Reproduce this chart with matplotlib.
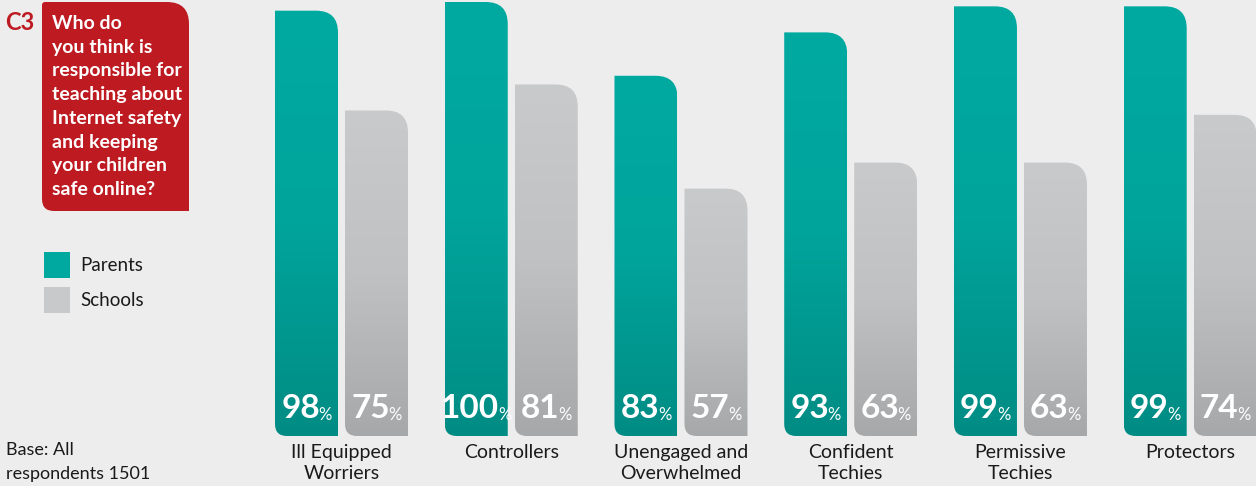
import numpy as np
import matplotlib
matplotlib.use("Agg")
import matplotlib.pyplot as plt
from matplotlib.path import Path
from matplotlib.patches import PathPatch, Rectangle
from matplotlib.colors import LinearSegmentedColormap
from matplotlib import transforms

# data
categories = ["Ill Equipped\nWorriers", "Controllers", "Unengaged and\nOverwhelmed",
              "Confident\nTechies", "Permissive\nTechies", "Protectors"]
parents = [98, 100, 83, 93, 99, 99]
schools = [75, 81, 57, 63, 63, 74]
series_names = ["Parents", "Schools"]
question = "Who do\nyou think is\nresponsible for\nteaching about\nInternet safety\nand keeping\nyour children\nsafe online?"

BG = "#ecedec"
RED = "#be1a21"
teal_cmap = LinearSegmentedColormap.from_list("teal", ["#008c84", "#00a49b", "#00aaa1"])
gray_cmap = LinearSegmentedColormap.from_list("gray", ["#a7a8aa", "#c0c1c3", "#c9cacc"])

W, H = 1256, 486
fig = plt.figure(figsize=(W / 100, H / 100), dpi=100)
fig.patch.set_facecolor(BG)

FONT = ["Lato", "DejaVu Sans"]

# bar axes: bottom of bars at y=436px, 100% reaches y=2px
spacing = 169.74
c0 = 341.5
left_px, right_px = 260, 1256
ax = fig.add_axes([left_px / W, 50 / H, (right_px - left_px) / W, 434 / H])
ax.set_xlim((left_px - c0) / spacing, (right_px - c0) / spacing)
ax.set_ylim(0, 100)
ax.axis("off")

bw = 63 / spacing
off = 35 / spacing

p0 = ax.transData.transform((0, 0))
p1 = ax.transData.transform((1, 1))
pxx, pxy = p1[0] - p0[0], p1[1] - p0[1]


def rounded_bar(x0, x1, top, rt=22, rb=12):
    tx, ty = rt / pxx, rt / pxy
    bx, by = rb / pxx, rb / pxy
    verts = [(x0, by), (x0, top), (x1 - tx, top), (x1, top), (x1, top - ty),
             (x1, 0), (x0 + bx, 0), (x0, 0), (x0, by), (x0, by)]
    codes = [Path.MOVETO, Path.LINETO, Path.LINETO, Path.CURVE3, Path.CURVE3,
             Path.LINETO, Path.LINETO, Path.CURVE3, Path.CURVE3, Path.CLOSEPOLY]
    return Path(verts, codes)


grad = np.linspace(0, 1, 256).reshape(-1, 1)
x = np.arange(len(categories))
for vals, sign, cmap in [(parents, -1, teal_cmap), (schools, 1, gray_cmap)]:
    for xi, v in zip(x, vals):
        xc = xi + sign * off
        x0, x1 = xc - bw / 2, xc + bw / 2
        patch = PathPatch(rounded_bar(x0, x1, v), facecolor="none", edgecolor="none")
        ax.add_patch(patch)
        im = ax.imshow(grad, extent=[x0, x1, 0, v], origin="lower", aspect="auto",
                       cmap=cmap, interpolation="bilinear")
        im.set_clip_path(patch)
        # value label: number plus small percent sign
        tr = transforms.offset_copy(ax.transData, fig=fig, x=-6, y=0, units="dots")
        num = ax.text(xc, 18 / pxy, str(v), transform=tr, ha="center", va="baseline",
                      fontsize=24, fontweight="bold", color="white", family=FONT)
        ax.annotate("%", xy=(1, 0), xycoords=num, xytext=(-1, 0), textcoords="offset points",
                    ha="left", va="bottom", fontsize=12, color="white", family=FONT)

ax.set_xlim((left_px - c0) / spacing, (right_px - c0) / spacing)
ax.set_ylim(0, 100)

# category labels
for xi, cat in zip(x, categories):
    ax.annotate(cat, xy=(xi, 0), xycoords="data", xytext=(0, -6), textcoords="offset points",
                ha="center", va="top", fontsize=14, color="#1a1a1a", family=FONT,
                linespacing=1.27, annotation_clip=False)

# overlay in pixel space for the side panel
ov = fig.add_axes([0, 0, 1, 1], zorder=-1)
ov.set_xlim(0, W)
ov.set_ylim(H, 0)
ov.axis("off")

# question box: rounded top-right and bottom-left
bx0, bx1, by0, by1 = 42, 189, 2, 211
r1, r2, r3 = 22, 12, 3
verts = [(bx0, by0 + r3), (bx0, by0), (bx0 + r3, by0),
         (bx1 - r1, by0), (bx1, by0), (bx1, by0 + r1),
         (bx1, by1), (bx0 + r2, by1), (bx0, by1), (bx0, by1 - r2),
         (bx0, by0 + r3)]
codes = [Path.MOVETO, Path.CURVE3, Path.CURVE3, Path.LINETO, Path.CURVE3, Path.CURVE3,
         Path.LINETO, Path.LINETO, Path.CURVE3, Path.CURVE3, Path.CLOSEPOLY]
ov.add_patch(PathPatch(Path(verts, codes), facecolor=RED, edgecolor="none"))
ov.text(52, 15, question, ha="left", va="top", fontsize=14, fontweight="bold",
        color="white", family=FONT, linespacing=1.48)
ov.text(5, 23, "C3", ha="left", va="center", fontsize=17, fontweight="bold",
        color=RED, family=FONT)

# legend
for i, (name, col) in enumerate(zip(series_names, ["#00a99f", "#c8c9cb"])):
    y = 252 + i * 35
    ov.add_patch(Rectangle((44, y), 26, 26, facecolor=col, edgecolor="none"))
    ov.text(80, y + 13, name, ha="left", va="center", fontsize=13.5,
            color="#1a1a1a", family=FONT)

ov.text(6, 442, "Base: All\nrespondents 1501", ha="left", va="top", fontsize=13,
        color="#1a1a1a", family=FONT, linespacing=1.6)

fig.savefig("out.png", dpi=100, facecolor=BG)
